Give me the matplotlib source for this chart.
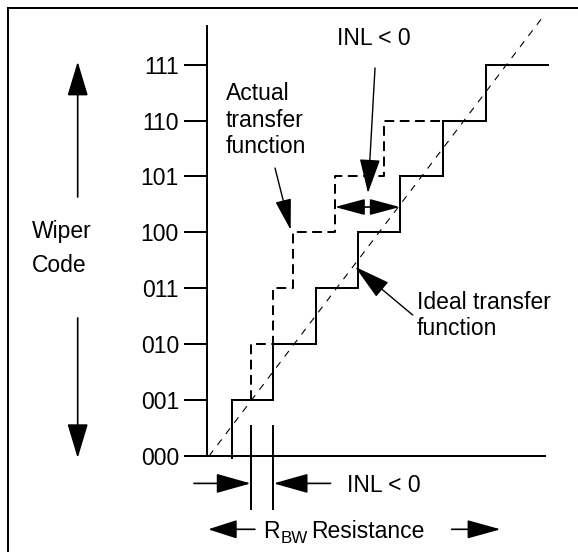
import matplotlib
matplotlib.use('Agg')
import matplotlib.pyplot as plt
from matplotlib.lines import Line2D

plt.rcParams['font.family'] = ['Liberation Sans', 'DejaVu Sans']
plt.rcParams['lines.scale_dashes'] = False

# wiper codes on the y axis
codes = ['000', '001', '010', '011', '100', '101', '110', '111']
# resistance (in LSB) where the wiper steps up to the next code
ideal_steps = [0.53, 1.5, 2.52, 3.51, 4.49, 5.51, 6.52]
actual_steps = [0.53, 0.98, 1.5, 1.98, 2.96, 4.12, 6.52]
ideal_end = 7.98   # end of the last flat step
diag_end = 7.9     # end of the straight ideal line

FS = 16.5
LW = 1.44

fig = plt.figure(figsize=(5.78, 5.52), dpi=100)
ax = fig.add_axes([0, 0, 1, 1])
ax.set_xlim(-4.918, 8.682)
ax.set_ylim(-1.717, 8.157)
ax.patch.set_alpha(0)

# axes lines and wiper code ticks
for s in ['top', 'right']:
    ax.spines[s].set_visible(False)
ax.spines['left'].set_position(('data', -0.047))
ax.spines['left'].set_bounds(0, 7.69)
ax.spines['bottom'].set_position(('data', 0))
ax.spines['bottom'].set_bounds(-0.353, 7.906)
for s in ['left', 'bottom']:
    ax.spines[s].set_linewidth(LW)
ax.set_xticks([])
ax.set_yticks(range(len(codes)))
ax.set_yticklabels(codes)
ax.tick_params(axis='y', length=16.6, width=LW, pad=3.6, labelsize=FS, direction='out')

# ideal (solid) staircase
sx, sy = [ideal_steps[0]], [-0.04]
for k, x in enumerate(ideal_steps):
    sx.append(x)
    sy.append(k + 1)
    nxt = ideal_steps[k + 1] if k + 1 < len(ideal_steps) else ideal_end
    sx.append(nxt)
    sy.append(k + 1)
ax.plot(sx, sy, color='black', lw=LW, solid_joinstyle='miter', clip_on=False)

# actual (dashed) staircase where it differs from the ideal one
dx, dy = [], []
for k in range(1, 6):
    dx += [actual_steps[k], actual_steps[k]]
    dy += [k, k + 1]
dx.append(ideal_steps[5])
dy.append(6)
ax.plot(dx, dy, color='black', lw=LW, dashes=(7, 4), clip_on=False)

# straight ideal line
ax.plot([0, diag_end], [0, diag_end], color='black', lw=0.8, dashes=(5, 5), clip_on=False)


def arrow(x0, y0, x1, y1, hl, hw, style='-|>', lw=1.2):
    ax.annotate('', xy=(x1, y1), xytext=(x0, y0),
                arrowprops=dict(arrowstyle=f'{style},head_length={hl},head_width={hw}',
                                mutation_scale=1, lw=lw, color='black',
                                shrinkA=0, shrinkB=0), annotation_clip=False)


# Wiper Code arrows
arrow(-3.09, 4.633, -3.09, 7.054, 21.6, 6.5)
arrow(-3.09, 2.469, -3.09, -0.036, 21.6, 6.5)
ax.text(-4.165, 3.90, 'Wiper', fontsize=FS, ha='left', va='baseline')
ax.text(-4.165, 3.297, 'Code', fontsize=FS, ha='left', va='baseline')

# INL < 0 at the top
ax.text(3.005, 7.352, 'INL < 0', fontsize=FS, ha='left', va='baseline')
arrow(3.906, 6.941, 3.741, 4.705, 21.6, 6.5, lw=1.0)
arrow(actual_steps[4], 4.454, ideal_steps[4], 4.454, 18.7, 5.0, style='<|-|>')

# Actual transfer function label
for txt, yb in zip(['Actual', 'transfer', 'function'], [6.369, 5.894, 5.420]):
    ax.text(0.40, yb, txt, fontsize=FS, ha='left', va='baseline')
arrow(1.553, 5.152, 1.922, 4.043, 19.4, 5.0, lw=1.0)

# Ideal transfer function label
ax.text(4.887, 2.633, 'Ideal transfer', fontsize=FS, ha='left', va='baseline')
ax.text(4.887, 2.165, 'function', fontsize=FS, ha='left', va='baseline')
arrow(4.793, 2.522, 3.435, 3.386, 23.0, 6.0, lw=1.0)

# INL < 0 below the x axis
for x in [actual_steps[1], ideal_steps[1]]:
    ax.plot([x, x], [0.537, -0.948], color='black', lw=LW, clip_on=False)
arrow(-0.353, -0.49, actual_steps[1], -0.49, 21.6, 6.1)
arrow(2.86, -0.49, ideal_steps[1] + 0.02, -0.49, 21.6, 6.1)
ax.text(3.24, -0.639, 'INL < 0', fontsize=FS, ha='left', va='baseline')

# R_BW Resistance
arrow(1.08, -1.311, -0.02, -1.311, 18.0, 5.8)
arrow(5.71, -1.311, 6.86, -1.311, 20.9, 5.8)
ax.text(1.27, -1.472, 'R', fontsize=FS, ha='left', va='baseline')
ax.text(1.69, -1.56, 'BW', fontsize=FS * 0.74, ha='left', va='baseline')
ax.text(2.40, -1.472, 'Resistance', fontsize=FS, ha='left', va='baseline')

# frame (left and top edges)
bx = 7.5 / 578
by = 1 - 7.5 / 552
fig.add_artist(Line2D([bx, bx], [0, by], transform=fig.transFigure, color='black', lw=LW))
fig.add_artist(Line2D([bx, 1], [by, by], transform=fig.transFigure, color='black', lw=LW))

fig.savefig('out.png', dpi=100, facecolor='white')
